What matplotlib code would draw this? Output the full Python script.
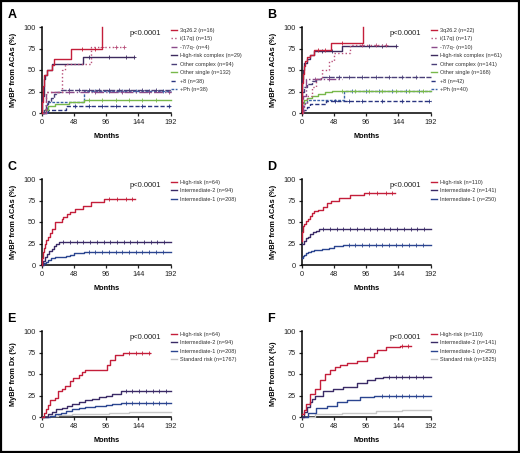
import numpy as np
import matplotlib
matplotlib.use('Agg')
import matplotlib.pyplot as plt
from matplotlib.patches import Rectangle

plt.rcParams['font.family'] = ['Liberation Sans', 'DejaVu Sans']

# ---- data ----
A_LABELS = ['3q26.2 (n=16)', 'i(17q) (n=15)', '-7/7q- (n=4)', 'High-risk complex (n=29)',
            'Other complex (n=94)', 'Other single (n=132)', '+8 (n=38)', '+Ph (n=38)']
A_TIMES = [[0, 1, 2, 4, 8, 15, 18, 44, 90],
           [0, 6, 30, 34, 73],
           [0, 7],
           [0, 1, 3, 5, 8, 15, 61],
           [0, 3, 6, 10, 14, 18, 22, 28],
           [0, 4, 10, 20, 40, 63],
           [0, 10, 36],
           [0, 8, 63]]
A_VALUES = [[0, 13, 31, 44, 50, 56, 63, 75, 100],
            [0, 25, 50, 57, 77],
            [0, 25],
            [0, 20, 40, 44, 50, 57, 65],
            [0, 5, 10, 14, 18, 22, 25, 27],
            [0, 4, 8, 10, 13, 15],
            [0, 3, 8],
            [0, 13, 26]]
A_ENDS = [90, 123, 192, 138, 192, 192, 192, 192]
A_CENSOR = [[60, 80], [90, 110, 123], [40, 80, 120, 160, 190], [70, 100, 125, 138],
            [40, 55, 70, 85, 100, 115, 130, 150, 170], [70, 90, 110, 130, 150, 170],
            [50, 70, 90, 110, 150, 190], [80, 100, 120, 140, 160, 180]]

B_LABELS = ['3q26.2 (n=22)', 'i(17q) (n=17)', '-7/7q- (n=10)', 'High-risk complex (n=61)',
            'Other complex (n=141)', 'Other single (n=168)', '+8 (n=42)', '+Ph (n=40)']
B_TIMES = [[0, 1, 2, 3, 5, 8, 12, 18, 44, 91],
           [0, 3, 8, 15, 22, 30, 40, 48, 72],
           [0, 2, 7],
           [0, 1, 2, 4, 8, 12, 18, 60],
           [0, 3, 8, 15, 22, 28],
           [0, 3, 8, 15, 25, 35, 45],
           [0, 8, 12, 36],
           [0, 4, 8, 63]]
B_VALUES = [[0, 35, 45, 55, 60, 65, 68, 73, 81, 100],
            [0, 10, 20, 30, 40, 50, 60, 70, 79],
            [0, 20, 40],
            [0, 40, 50, 58, 63, 67, 72, 78],
            [25, 30, 34, 37, 40, 42],
            [12, 15, 18, 20, 22, 24, 26],
            [3, 7, 10, 14],
            [8, 12, 15, 26]]
B_ENDS = [91, 125, 60, 140, 192, 192, 192, 192]
B_CENSOR = [[25, 35, 60], [90, 110, 125], [20, 40], [30, 45, 100, 120, 140],
            [40, 55, 70, 90, 110, 130, 150, 170], [60, 80, 100, 120, 140, 160, 180],
            [50, 70, 90, 120, 150, 190], [75, 95, 115, 135, 155, 175]]

C_LABELS = ['High-risk (n=64)', 'Intermediate-2 (n=94)', 'Intermediate-1 (n=208)']
C_TIMES = [[0, 1, 2, 3, 5, 7, 10, 12, 15, 20, 30, 32, 37, 42, 50, 62, 74, 92],
           [0, 2, 5, 8, 11, 15, 19, 22, 26],
           [0, 3, 6, 9, 14, 20, 36, 42, 48, 63]]
C_VALUES = [[0, 8, 15, 20, 25, 29, 33, 37, 42, 50, 53, 56, 59, 62, 65, 69, 73, 77],
            [0, 5, 9, 13, 16, 19, 22, 25, 27],
            [0, 2, 4, 6, 8, 9, 10, 12, 14, 15]]
C_ENDS = [139, 192, 192]
C_CENSOR = [[100, 112, 125, 135],
            [32, 42, 52, 62, 72, 82, 92, 102, 112, 122, 132, 142, 152, 162, 172, 182],
            [70, 80, 90, 100, 110, 120, 130, 140, 150, 160, 170, 180]]

D_LABELS = ['High-risk (n=110)', 'Intermediate-2 (n=141)', 'Intermediate-1 (n=250)']
D_TIMES = [[0, 1, 2, 4, 6, 9, 12, 15, 18, 24, 32, 38, 44, 56, 72, 92],
           [0, 3, 6, 9, 13, 17, 21, 26],
           [0, 2, 4, 7, 10, 14, 18, 24, 30, 40, 48, 62]]
D_VALUES = [[28, 38, 45, 48, 51, 54, 57, 60, 63, 64, 68, 72, 75, 78, 81, 84],
            [25, 28, 31, 33, 36, 38, 40, 42],
            [8, 10, 12, 14, 15, 16, 17, 18, 18.5, 20, 22, 23]]
D_ENDS = [139, 192, 192]
D_CENSOR = [[100, 112, 125, 135],
            [32, 42, 52, 62, 72, 82, 92, 102, 112, 122, 132, 142, 152, 162, 172, 182],
            [70, 80, 90, 100, 110, 120, 130, 140, 150, 160, 170, 180]]

E_LABELS = ['High-risk (n=64)', 'Intermediate-2 (n=94)', 'Intermediate-1 (n=208)',
            'Standard risk (n=1767)']
E_TIMES = [[0, 3, 6, 9, 12, 20, 25, 30, 35, 42, 47, 55, 60, 65, 97, 102, 109, 121],
           [0, 10, 15, 22, 30, 38, 45, 55, 65, 75, 85, 95, 105, 118],
           [0, 12, 20, 28, 36, 45, 55, 65, 80, 95, 105, 118],
           [0, 10, 25, 45, 70, 100, 130]]
E_VALUES = [[0, 5, 9, 14, 20, 22, 30, 33, 36, 42, 45, 49, 52, 55, 60, 66, 72, 75],
            [0, 3, 6, 9, 11, 13, 15, 17, 20, 21, 23, 25, 27, 30],
            [0, 1, 3, 5, 7, 9, 11, 12, 13, 14, 15, 16],
            [0, 1, 2, 3, 4, 5, 6]]
E_ENDS = [161, 192, 192, 192]
E_CENSOR = [[130, 140, 150, 160],
            [125, 135, 145, 155, 165, 175, 185],
            [125, 135, 145, 155, 165, 175, 185],
            []]

F_LABELS = ['High-risk (n=110)', 'Intermediate-2 (n=141)', 'Intermediate-1 (n=250)',
            'Standard risk (n=1825)']
F_TIMES = [[0, 3, 7, 12, 20, 27, 35, 42, 50, 57, 67, 82, 97, 107, 112, 126, 146],
           [0, 4, 8, 12, 16, 20, 32, 47, 62, 82, 97, 109, 121],
           [0, 10, 22, 37, 52, 67, 87, 107],
           [0, 20, 60, 110, 150]]
F_VALUES = [[4, 8, 15, 27, 33, 43, 50, 55, 58, 61, 63, 65, 70, 75, 78, 81, 83],
            [0, 6, 12, 17, 21, 25, 30, 32, 35, 40, 43, 45, 46],
            [0, 5, 10, 13, 17, 20, 23, 25],
            [0, 3, 5, 7, 8]]
F_ENDS = [162, 192, 192, 192]
F_CENSOR = [[150, 158],
            [130, 140, 150, 160, 170, 180],
            [120, 130, 140, 150, 160, 170, 180],
            []]

# styles
COL8 = ['#c41e3a', '#b8507a', '#8a4a8a', '#3d2a5e', '#4a3f78', '#78b84a', '#2a3580', '#3b63a8']
LS8 = ['-', ':', '-.', '-', (0, (4, 1)), '-', (0, (3, 1.5)), (0, (2, 1))]
COL4 = ['#c41e3a', '#3a2a66', '#2b4590', '#c8c8c8']
LS4 = ['-', '-', '-', '-']

fig = plt.figure(figsize=(5.2, 4.53), dpi=100)
fig.patches.append(Rectangle((0.0015, 0.0015), 0.997, 0.997, transform=fig.transFigure,
                             fill=False, lw=1.6, edgecolor='black'))

W, H = 129 / 520, 86 / 453
LEFTS = [41.7 / 520, 301.7 / 520]
BOTTOMS = [1 - 113 / 453, 1 - 265 / 453, 1 - 417 / 453]

panels = [
    ('A', A_LABELS, A_TIMES, A_VALUES, A_ENDS, A_CENSOR, 'MyBP from ACAs (%)', COL8, LS8),
    ('B', B_LABELS, B_TIMES, B_VALUES, B_ENDS, B_CENSOR, 'MyBP from ACAs (%)', COL8, LS8),
    ('C', C_LABELS, C_TIMES, C_VALUES, C_ENDS, C_CENSOR, 'MyBP from ACAs (%)', COL4, LS4),
    ('D', D_LABELS, D_TIMES, D_VALUES, D_ENDS, D_CENSOR, 'MyBP from ACAs (%)', COL4, LS4),
    ('E', E_LABELS, E_TIMES, E_VALUES, E_ENDS, E_CENSOR, 'MyBP from Dx (%)', COL4, LS4),
    ('F', F_LABELS, F_TIMES, F_VALUES, F_ENDS, F_CENSOR, 'MyBP from DX (%)', COL4, LS4),
]

for i, (letter, labels, times, values, ends, censor, ylab, cols, styles) in enumerate(panels):
    r, c = divmod(i, 2)
    ax = fig.add_axes([LEFTS[c], BOTTOMS[r], W, H])
    n = len(labels)
    for k in reversed(range(n)):
        t = list(times[k]) + [ends[k]]
        v = list(values[k]) + [values[k][-1]]
        z = 3 + (n - k) * 0.1
        ax.step(t, v, where='post', color=cols[k], ls=styles[k], lw=1.0,
                label=labels[k], clip_on=False, zorder=z)
        if censor[k]:
            idx = np.searchsorted(times[k], censor[k], side='right') - 1
            cv = np.array(values[k])[idx]
            ax.plot(censor[k], cv, ls='none', marker='+', ms=2.6, mew=0.6,
                    color=cols[k], clip_on=False, zorder=z)
    ax.set_xlim(0, 192)
    ax.set_ylim(0, 100)
    ax.set_xticks([0, 48, 96, 144, 192])
    ax.set_yticks([0, 25, 50, 75, 100])
    for s in ['top', 'right']:
        ax.spines[s].set_visible(False)
    for s in ['left', 'bottom']:
        ax.spines[s].set_linewidth(1.1)
    ax.tick_params(direction='out', length=2.5, width=0.9, labelsize=5.3, pad=1.5,
                   colors='#222222')
    ax.text(-0.215, 0.5, ylab, transform=ax.transAxes, rotation=90, ha='center',
            va='center', fontsize=5.3, fontweight='bold')
    ax.text(0.5, -0.275, 'Months', transform=ax.transAxes, ha='center', va='center',
            fontsize=5.3, fontweight='bold')
    ax.text(154, 93, 'p<0.0001', ha='center', va='center', fontsize=5.5, color='#222222')
    ax.text(-0.265, 1.14, letter, transform=ax.transAxes, ha='left', va='center',
            fontsize=9, fontweight='bold')
    h, l = ax.get_legend_handles_labels()
    leg = ax.legend(h[::-1], l[::-1], loc='upper left', bbox_to_anchor=(1.005, 0.99),
                    frameon=False, fontsize=4, handlelength=1.0, handletextpad=0.6,
                    labelspacing=0.62, borderpad=0, borderaxespad=0)
    for txt in leg.get_texts():
        txt.set_color('#333333')

fig.savefig('out.png', dpi=100)
